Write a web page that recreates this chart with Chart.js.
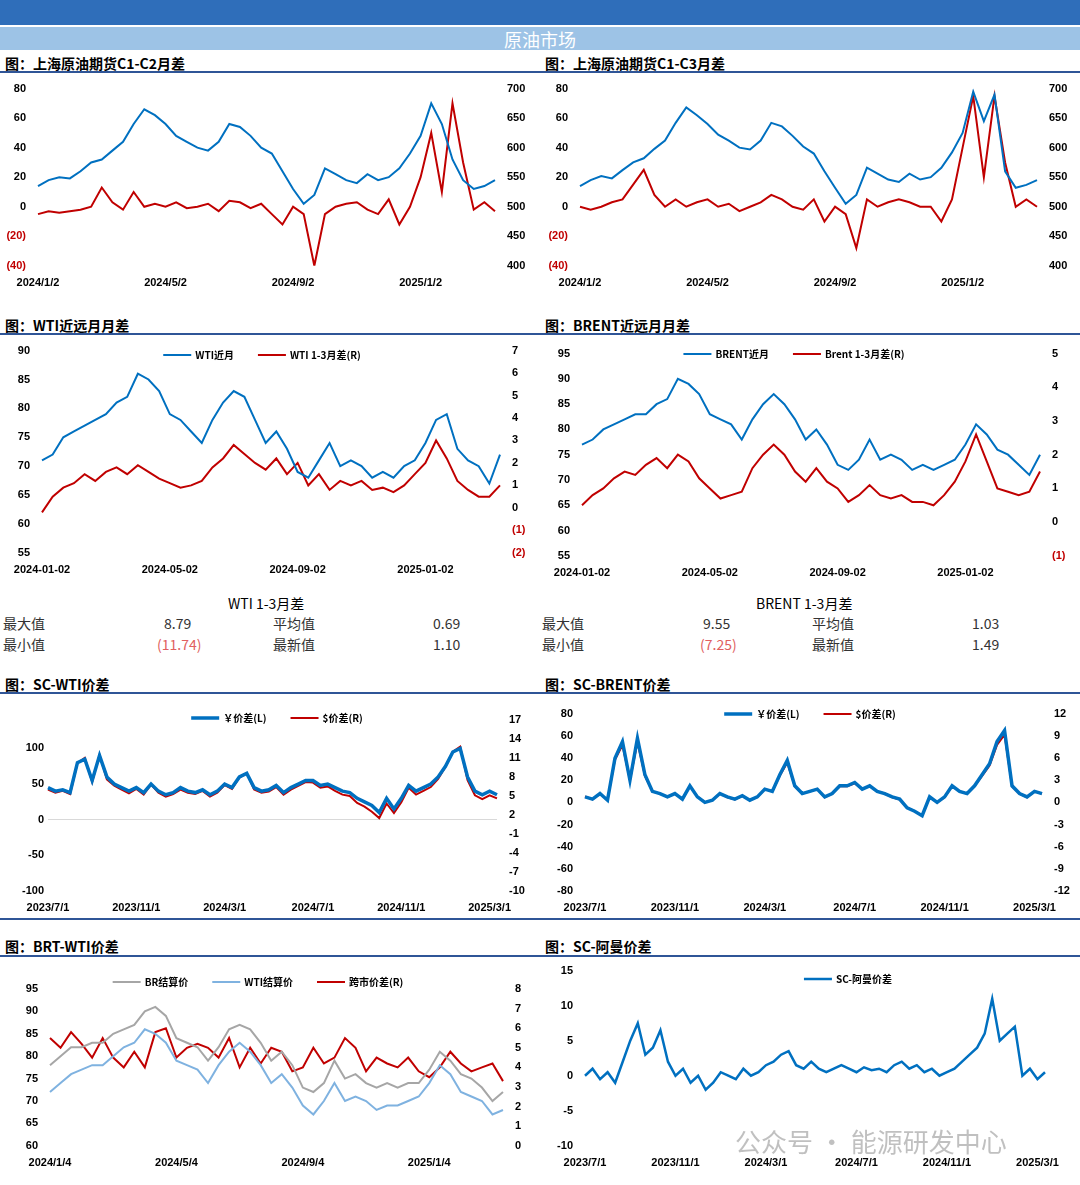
<!DOCTYPE html>
<html><head><meta charset="utf-8">
<script src="https://cdn.jsdelivr.net/npm/chart.js@4.4.0/dist/chart.umd.min.js"></script>
<style>
body{margin:0;width:1080px;height:1185px;background:#fff;position:relative;overflow:hidden;font-family:"Noto Sans CJK SC","Liberation Sans",sans-serif;}
.abs{position:absolute}
.title{position:absolute;font-size:14px;font-weight:bold;color:#000;}
.hl{position:absolute;height:2px;background:#2f5597;}
.cv{position:absolute}
.st{position:absolute;font-size:14px;color:#333;}
</style></head><body>
<div class="abs" style="left:0;top:0;width:1080px;height:25px;background:#2f6eba"></div>
<div class="abs" style="left:0;top:27px;width:1080px;height:23px;background:#9dc3e6;color:#fff;font-size:18px;text-align:center;line-height:24px">原油市场</div>

<div class="title" style="left:5px;top:53px">图：上海原油期货C1-C2月差</div>
<div class="title" style="left:545px;top:53px">图：上海原油期货C1-C3月差</div>
<div class="hl" style="left:0;top:71px;width:1080px"></div>
<div class="title" style="left:5px;top:315px">图：WTI近远月月差</div>
<div class="title" style="left:545px;top:315px">图：BRENT近远月月差</div>
<div class="hl" style="left:0;top:333px;width:1080px"></div>

<div class="st" style="left:228px;top:593px;color:#000">WTI 1-3月差</div>
<div class="st" style="left:756px;top:593px;color:#000">BRENT 1-3月差</div>
<div class="st" style="left:3px;top:613px">最大值</div><div class="st" style="left:164px;top:613px">8.79</div>
<div class="st" style="left:273px;top:613px">平均值</div><div class="st" style="left:433px;top:613px">0.69</div>
<div class="st" style="left:3px;top:634px">最小值</div><div class="st" style="left:157px;top:634px;color:#e06060">(11.74)</div>
<div class="st" style="left:273px;top:634px">最新值</div><div class="st" style="left:433px;top:634px">1.10</div>
<div class="st" style="left:542px;top:613px">最大值</div><div class="st" style="left:703px;top:613px">9.55</div>
<div class="st" style="left:812px;top:613px">平均值</div><div class="st" style="left:972px;top:613px">1.03</div>
<div class="st" style="left:542px;top:634px">最小值</div><div class="st" style="left:700px;top:634px;color:#e06060">(7.25)</div>
<div class="st" style="left:812px;top:634px">最新值</div><div class="st" style="left:972px;top:634px">1.49</div>

<div class="title" style="left:5px;top:674px">图：SC-WTI价差</div>
<div class="title" style="left:545px;top:674px">图：SC-BRENT价差</div>
<div class="hl" style="left:0;top:692px;width:1080px"></div>
<div class="hl" style="left:0;top:918px;width:1080px"></div>
<div class="title" style="left:5px;top:936px">图：BRT-WTI价差</div>
<div class="title" style="left:545px;top:936px">图：SC-阿曼价差</div>
<div class="hl" style="left:0;top:955px;width:1080px"></div>

<div class="cv" style="left:0;top:78px;width:535px;height:215px"><canvas id="c1"></canvas></div>
<div class="cv" style="left:540px;top:78px;width:540px;height:215px"><canvas id="c2"></canvas></div>
<div class="cv" style="left:0;top:340px;width:535px;height:240px"><canvas id="c3"></canvas></div>
<div class="cv" style="left:540px;top:343px;width:540px;height:240px"><canvas id="c4"></canvas></div>
<div class="cv" style="left:0;top:700px;width:535px;height:218px"><canvas id="c5"></canvas></div>
<div class="cv" style="left:540px;top:700px;width:540px;height:218px"><canvas id="c6"></canvas></div>
<div class="cv" style="left:0;top:965px;width:535px;height:208px"><canvas id="c7"></canvas></div>
<div class="cv" style="left:540px;top:960px;width:540px;height:213px"><canvas id="c8"></canvas></div>

<div class="abs" style="left:735px;top:1122px;font-size:26px;color:rgba(150,150,150,0.6)">公众号 · 能源研发中心</div>

<script>
// ---- tick labels ----
const ticks2024a = ['2024/1/2','2024/5/2','2024/9/2','2025/1/2'];
const ticks2024b = ['2024-01-02','2024-05-02','2024-09-02','2025-01-02'];
const ticks2023 = ['2023/7/1','2023/11/1','2024/3/1','2024/7/1','2024/11/1','2025/3/1'];
const ticks2024c = ['2024/1/4','2024/5/4','2024/9/4','2025/1/4'];

// ---- series ----
const scPrice12 = [535,545,550,548,560,575,580,595,610,640,665,655,640,620,610,600,595,610,640,635,620,600,590,560,530,505,520,565,555,545,540,555,545,550,565,590,620,675,640,580,545,530,535,545];
const c1c2 = [-5,-3,-4,-3,-2,0,13,3,-2,10,0,2,0,3,-1,0,2,-3,4,3,-1,2,-5,-12,0,-5,-40,-5,0,2,3,-2,-5,5,-12,0,20,50,10,70,30,-2,3,-3];
const scPrice13 = [535,545,552,548,562,575,582,598,612,642,668,655,640,622,612,600,597,612,642,636,620,602,590,560,532,505,520,566,556,546,542,556,546,550,566,592,625,695,645,690,560,532,537,545];
const c1c3 = [0,-2,0,3,5,15,25,8,0,5,0,3,5,0,2,-3,0,3,8,5,0,-2,5,-10,0,-5,-28,5,0,3,5,3,0,0,-10,5,40,75,20,75,30,0,5,0];
const wtiNear = [71,72,75,76,77,78,79,81,82,86,85,83,79,78,76,74,78,81,83,82,78,74,76,73,69,68,71,74,70,71,70,68,69,68,70,71,74,78,79,73,71,70,67,72];
const wti13 = [-0.2,0.5,0.9,1.1,1.5,1.2,1.6,1.8,1.5,1.9,1.6,1.3,1.1,0.9,1.0,1.2,1.8,2.2,2.8,2.4,2.0,1.7,2.2,1.5,2.0,1.0,1.5,0.8,1.2,1.0,1.2,0.8,0.9,0.7,1.0,1.5,2.0,3.0,2.2,1.2,0.8,0.5,0.5,1.0];
const brentNear = [77,78,80,81,82,83,83,85,86,90,89,87,83,82,81,78,82,85,87,85,82,78,80,77,73,72,74,78,74,75,74,72,73,72,73,74,77,81,79,76,75,73,71,75];
const brent13 = [0.5,0.8,1.0,1.3,1.5,1.4,1.7,1.9,1.6,2.0,1.8,1.3,1.0,0.7,0.8,0.9,1.6,2.0,2.3,2.0,1.5,1.2,1.6,1.2,1.0,0.6,0.8,1.1,0.8,0.7,0.8,0.6,0.6,0.5,0.8,1.2,1.8,2.6,1.8,1.0,0.9,0.8,0.9,1.5];
const scWtiCny = [45,40,42,38,80,85,55,90,60,50,45,40,45,38,50,40,35,38,45,40,38,42,35,40,50,45,60,65,45,40,42,48,38,45,50,55,55,48,50,45,40,38,30,25,20,10,30,15,30,48,40,45,50,60,75,95,100,60,40,35,40,35];
const scWtiUsd = [6.0,5.5,5.8,5.3,10.2,11.0,7.2,11.5,7.6,6.6,6.0,5.4,6.1,5.2,6.8,5.5,4.9,5.3,6.0,5.5,5.3,5.8,4.9,5.5,6.7,6.1,7.9,8.6,6.0,5.5,5.7,6.4,5.2,6.0,6.6,7.2,7.1,6.3,6.5,5.8,5.2,5.0,3.9,3.3,2.5,1.5,3.8,2.3,4.0,6.3,5.2,5.8,6.4,7.7,9.6,12.0,12.8,7.5,5.1,4.5,5.1,4.6];
const scBrentCny = [5,3,8,2,40,55,20,58,25,10,8,5,8,3,15,5,0,2,8,5,3,6,2,5,12,10,25,38,15,8,10,12,5,8,15,15,18,12,15,10,8,5,3,-5,-8,-12,5,0,5,15,10,8,15,25,35,55,65,15,8,5,10,8];
const scBrentUsd = [0.8,0.4,1.2,0.3,5.8,7.8,3.0,8.2,3.6,1.5,1.2,0.7,1.2,0.4,2.2,0.8,0,0.3,1.2,0.7,0.4,0.9,0.3,0.7,1.8,1.5,3.6,5.4,2.2,1.2,1.5,1.8,0.7,1.2,2.2,2.2,2.6,1.8,2.2,1.5,1.2,0.7,0.4,-0.7,-1.2,-1.8,0.7,0,0.7,2.2,1.5,1.2,2.2,3.6,5.0,7.8,9.2,2.2,1.2,0.7,1.5,1.2];
const brSettle = [78,80,82,82,83,83,85,86,87,90,91,89,84,83,82,79,82,86,87,86,83,79,81,78,73,72,74,79,75,76,74,73,74,73,74,74,77,81,79,76,75,73,70,72];
const wtiSettle = [72,74,76,77,78,78,80,82,83,86,85,83,79,78,77,74,78,81,83,81,78,74,76,73,69,67,70,74,70,71,70,68,69,69,70,71,74,78,76,72,71,70,67,68];
const brtWti = [5.5,5.0,5.8,5.2,4.5,5.5,4.5,4.0,4.8,4.0,5.8,6.0,4.5,5.0,5.2,5.0,4.5,5.5,4.0,5.0,4.2,5.0,4.8,3.8,4.0,5.0,4.2,4.5,5.5,5.0,3.8,4.5,4.2,4.0,4.5,3.8,3.5,4.0,4.8,4.2,3.8,4.0,4.2,3.3];
const scOman = [0,1,-0.5,0.5,-1,2,5,7.5,3,4,6.5,2,0,1,-1,0,-2,-1,0.5,0,-0.5,1,0,0.5,1.5,2,3,3.5,1.5,1,2,1,0.5,1,1.5,1,0.5,1.2,0.8,1,0.5,1.5,2,1,1.5,0.5,1,0,0.5,1,2,3,4,6,11,5,6,7,0,1,-0.5,0.5];

const RED='#c00000', BLUE='#0070c0', GRAY='#a6a6a6', LBLUE='#7fb2e0';
const FONT={family:'"Liberation Sans", Arial, sans-serif',size:11,weight:'bold'};

function mkLabels(n, tl, every){ return Array.from({length:n},(_,i)=> i%every===0 && tl[i/every]!==undefined ? tl[i/every] : ''); }

// horizontal legend drawn inside the canvas at a given y
const topLegend = {id:'topLegend', afterDraw(chart, args, o){
  if(!o || !o.y) return;
  const ctx=chart.ctx; ctx.save();
  ctx.font='bold 10px "Noto Sans CJK SC", "Liberation Sans", sans-serif';
  ctx.textBaseline='middle';
  const items=chart.data.datasets.map(d=>({t:d.label,c:d.borderColor,w:d.borderWidth}));
  const gap=o.gap||24, lw=28;
  let total=items.reduce((s,it)=>s+lw+4+ctx.measureText(it.t).width,0)+gap*(items.length-1);
  let x=(o.cx!==undefined?o.cx:(chart.chartArea.left+chart.chartArea.right)/2)-total/2;
  items.forEach(it=>{
    ctx.strokeStyle=it.c; ctx.lineWidth=Math.max(2,it.w); ctx.beginPath(); ctx.moveTo(x,o.y); ctx.lineTo(x+lw,o.y); ctx.stroke();
    x+=lw+4; ctx.fillStyle='#000'; ctx.fillText(it.t,x,o.y); x+=ctx.measureText(it.t).width+gap;
  });
  ctx.restore();
}};
Chart.register(topLegend);

function yAxis(pos,min,max,step,width,opt={}){
  return {position:pos,min,max,grid:opt.grid||{display:false},border:{display:false},
    afterFit:s=>{s.width=width;},
    afterBuildTicks:opt.tickVals?(s=>{s.ticks=opt.tickVals.map(v=>({value:v}));}):undefined,
    ticks:{stepSize:step,font:FONT,color:opt.color||'#000',padding:opt.pad||4,
      callback:opt.cb||(v=>v)}};
}
function paren(v){return v<0?'('+(-v)+')':v;}
function build(id, labels, datasets, yL, yR, legendY, pad, cx){
  new Chart(document.getElementById(id),{type:'line',
    data:{labels,datasets:datasets.map(d=>Object.assign({pointRadius:0,borderWidth:2,tension:0,fill:false},d))},
    options:{responsive:true,maintainAspectRatio:false,animation:false,
      layout:{padding:pad||{top:4,bottom:0,left:0,right:0}},
      plugins:{tooltip:{enabled:false},legend:{display:false},topLegend:{y:legendY||0,cx}},
      scales:{x:{offset:false,grid:{display:false},border:{display:false},
        ticks:{autoSkip:false,maxRotation:0,font:FONT,color:'#000',callback:function(v){return labels[v];}}},
        yL, yR}}});
}
const negRed = {cb:paren,color:c=>c.tick.value<0?RED:'#000'};
const zeroGrid = {display:true,drawTicks:false,color:c=>c.tick&&c.tick.value===0?'#d9d9d9':'rgba(0,0,0,0)'};

// C1
build('c1', mkLabels(scPrice12.length,ticks2024a,12),[
  {data:scPrice12,borderColor:BLUE,yAxisID:'yR'},
  {data:c1c2,borderColor:RED,yAxisID:'yL'}],
  yAxis('left',-40,80,20,38,negRed), yAxis('right',400,700,50,40));
// C2
build('c2', mkLabels(scPrice13.length,ticks2024a,12),[
  {data:scPrice13,borderColor:BLUE,yAxisID:'yR'},
  {data:c1c3,borderColor:RED,yAxisID:'yL'}],
  yAxis('left',-40,80,20,40,negRed), yAxis('right',400,700,50,43));
// C3
build('c3', mkLabels(wtiNear.length,ticks2024b,12),[
  {label:'WTI近月',data:wtiNear,borderColor:BLUE,yAxisID:'yL'},
  {label:'WTI 1-3月差(R)',data:wti13,borderColor:RED,yAxisID:'yR'}],
  yAxis('left',55,90,5,42), yAxis('right',-2,7,1,35,negRed), 15, {top:6,bottom:0,left:0,right:0}, 262);
// C4
build('c4', mkLabels(brentNear.length,ticks2024b,12),[
  {label:'BRENT近月',data:brentNear,borderColor:BLUE,yAxisID:'yL'},
  {label:'Brent 1-3月差(R)',data:brent13,borderColor:RED,yAxisID:'yR'}],
  yAxis('left',55,95,5,42), yAxis('right',-1,5,1,40,negRed), 11, {top:6,bottom:0,left:0,right:0}, 254);
// C5
build('c5', mkLabels(scWtiCny.length,ticks2023,12),[
  {label:'￥价差(L)',data:scWtiCny,borderColor:BLUE,borderWidth:3.5,yAxisID:'yL'},
  {label:'$价差(R)',data:scWtiUsd,borderColor:RED,yAxisID:'yR'}],
  yAxis('left',-100,140,50,48,{tickVals:[-100,-50,0,50,100],grid:zeroGrid}), yAxis('right',-10,17,3,38), 18, {top:20,bottom:0,left:0,right:0}, 277);
// C6
build('c6', mkLabels(scBrentCny.length,ticks2023,12),[
  {label:'￥价差(L)',data:scBrentCny,borderColor:BLUE,borderWidth:3.5,yAxisID:'yL'},
  {label:'$价差(R)',data:scBrentUsd,borderColor:RED,yAxisID:'yR'}],
  yAxis('left',-80,80,20,45), yAxis('right',-12,12,3,38), 14, {top:14,bottom:0,left:0,right:0}, 270);
// C7
build('c7', mkLabels(brSettle.length,ticks2024c,12),[
  {label:'BR结算价',data:brSettle,borderColor:GRAY,yAxisID:'yL'},
  {label:'WTI结算价',data:wtiSettle,borderColor:LBLUE,yAxisID:'yL'},
  {label:'跨市价差(R)',data:brtWti,borderColor:RED,yAxisID:'yR'}],
  yAxis('left',60,95,5,50), yAxis('right',0,8,1,32), 17, {top:24,bottom:0,left:0,right:0}, 258);
// C8
build('c8', mkLabels(scOman.length,ticks2023,12),[
  {label:'SC-阿曼价差',data:scOman,borderColor:BLUE,borderWidth:2.5,yAxisID:'yL'}],
  yAxis('left',-10,15,5,45), {display:false}, 19, {top:4,bottom:0,left:0,right:35}, 308);
</script>
</body></html>
